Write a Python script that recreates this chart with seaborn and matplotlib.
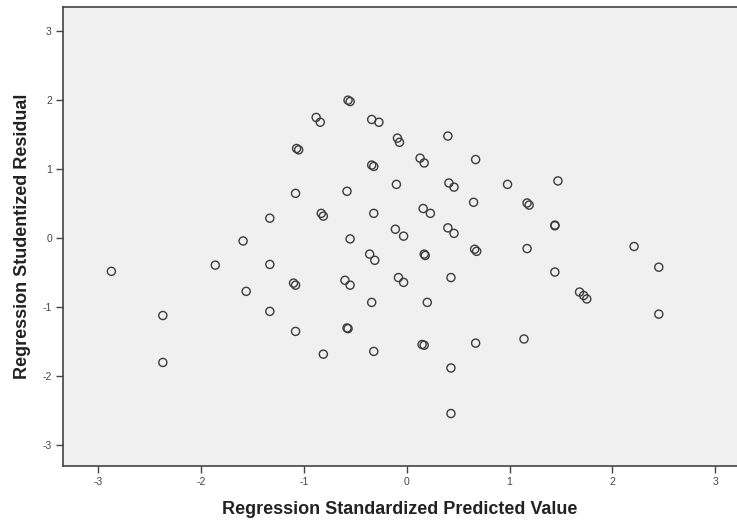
import numpy as np
import pandas as pd
import seaborn as sns
import matplotlib.pyplot as plt

# Residual scatter (near-duplicate points kept as pairs)
pred = [-2.87, -2.37, -2.37, -1.86, -1.59, -1.56, -1.33, -1.33, -1.33,
        -1.07, -1.05, -1.08, -1.10, -1.08, -1.08, -0.88, -0.84, -0.83, -0.81, -0.81,
        -0.57, -0.55, -0.58, -0.55, -0.60, -0.55, -0.58, -0.57,
        -0.34, -0.27, -0.34, -0.32, -0.32, -0.36, -0.31, -0.34, -0.32,
        -0.09, -0.07, -0.10, -0.11, -0.03, -0.08, -0.03,
        0.13, 0.17, 0.16, 0.23, 0.17, 0.18, 0.20, 0.15, 0.17,
        0.40, 0.41, 0.46, 0.40, 0.46, 0.43, 0.43, 0.43,
        0.67, 0.65, 0.66, 0.68, 0.67, 0.98, 1.17, 1.19, 1.17, 1.14,
        1.44, 1.44, 1.44, 1.47, 1.68, 1.72, 1.75, 2.21, 2.45, 2.45]
resid = [-0.48, -1.12, -1.80, -0.39, -0.04, -0.77, 0.29, -0.38, -1.06,
         1.30, 1.28, 0.65, -0.65, -0.68, -1.35, 1.75, 1.68, 0.36, 0.32, -1.68,
         2.00, 1.98, 0.68, -0.01, -0.61, -0.68, -1.30, -1.31,
         1.72, 1.68, 1.06, 1.04, 0.36, -0.23, -0.32, -0.93, -1.64,
         1.45, 1.39, 0.78, 0.13, 0.03, -0.57, -0.64,
         1.16, 1.09, 0.43, 0.36, -0.23, -0.25, -0.93, -1.54, -1.55,
         1.48, 0.80, 0.74, 0.15, 0.07, -0.57, -1.88, -2.54,
         1.14, 0.52, -0.16, -0.19, -1.52, 0.78, 0.51, 0.48, -0.15, -1.46,
         0.19, 0.18, -0.49, 0.83, -0.78, -0.83, -0.88, -0.12, -0.42, -1.10]
ticks = [-3, -2, -1, 0, 1, 2, 3]

df = pd.DataFrame({"pred": pred, "resid": resid})

sns.set_style("white")
plt.rcParams['font.family'] = ['Liberation Sans', 'DejaVu Sans']
plt.rcParams['axes.unicode_minus'] = False

fig = plt.figure(figsize=(7.37, 5.25), dpi=100)
ax = fig.add_axes([0.0855, 0.1124, 0.9145, 0.8743])
ax.set_facecolor("#f0f0f0")

sns.scatterplot(data=df, x="pred", y="resid", ax=ax, marker="o", s=34,
                facecolors="none", edgecolors="#3c3c3c", linewidth=1.0)

ax.set_xlim(-3.34, 3.21)
ax.set_ylim(-3.30, 3.35)
ax.set_xticks(ticks)
ax.set_yticks(ticks)
ax.tick_params(bottom=True, left=True, direction="out", length=5, width=1,
               color="#444444", labelsize=7.5, labelcolor="#444444", pad=3)

for side in ["left", "bottom", "top"]:
    ax.spines[side].set_color("#444444")
    ax.spines[side].set_linewidth(1.2)
ax.spines["right"].set_visible(False)

ax.set_xlabel("Regression Standardized Predicted Value", fontsize=13,
              fontweight="bold", color="#222222", labelpad=10)
ax.set_ylabel("Regression Studentized Residual", fontsize=13,
              fontweight="bold", color="#222222", labelpad=8)

fig.savefig("out.png", dpi=100)
